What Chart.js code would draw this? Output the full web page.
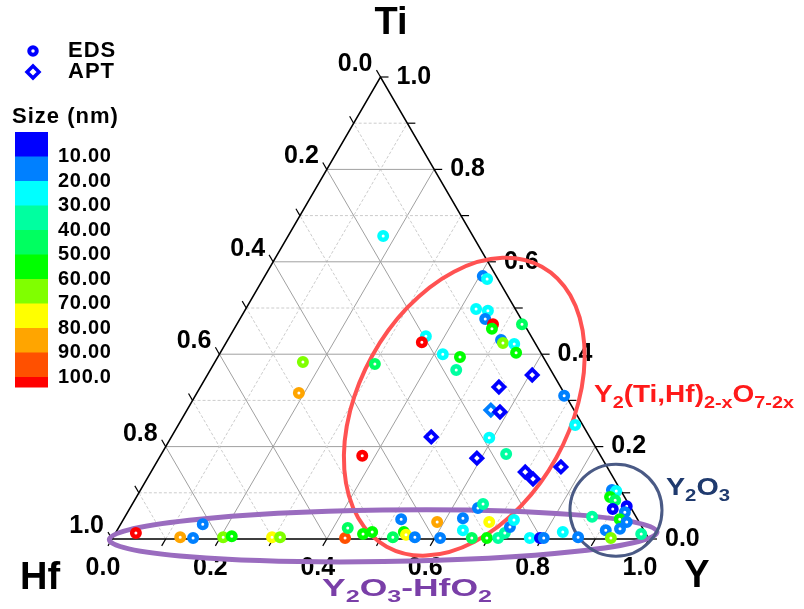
<!DOCTYPE html>
<html>
<head>
<meta charset="utf-8">
<script src="https://cdn.jsdelivr.net/npm/chart.js@4.4.1/dist/chart.umd.min.js"></script>
<style>
    html, body { margin: 0; padding: 0; background: #fff; }
    #wrap { width: 804px; height: 609px; }
</style>
</head>
<body>
<div id="wrap"><canvas id="ternaryChart" width="804" height="609"></canvas></div>
<script>
// EDS particles (circles): Y fraction, Ti fraction, size (nm)
const edsY = [0.177, 0.406, 0.417, 0.429, 0.453, 0.457, 0.477, 0.480, 0.531, 0.365,
              0.364, 0.509, 0.516, 0.538, 0.551, 0.416, 0.451, 0.458, 0.300, 0.687,
              0.739, 0.164, 0.190, 0.376, 0.593, 0.642, 0.153, 0.038, 0.125, 0.150,
              0.205, 0.220, 0.296, 0.311, 0.433, 0.427, 0.462, 0.477, 0.521, 0.536,
              0.543, 0.562, 0.517, 0.587, 0.610, 0.631, 0.644, 0.669, 0.648, 0.653,
              0.697, 0.684, 0.718, 0.725, 0.728, 0.728, 0.777, 0.796, 0.803, 0.832,
              0.866, 0.870, 0.878, 0.887, 0.882, 0.895, 0.900, 0.923, 0.926, 0.924,
              0.940, 0.935, 0.910, 0.928, 0.980];
const edsTi = [0.656, 0.569, 0.563, 0.498, 0.494, 0.476, 0.465, 0.455, 0.465, 0.439,
               0.426, 0.431, 0.424, 0.422, 0.403, 0.400, 0.394, 0.366, 0.379, 0.310,
               0.247, 0.383, 0.316, 0.180, 0.219, 0.184, 0.032, 0.013, 0.004, 0.002,
               0.004, 0.006, 0.004, 0.004, 0.002, 0.024, 0.011, 0.015, 0.004, 0.015,
               0.009, 0.004, 0.043, 0.037, 0.002, 0.045, 0.019, 0.002, 0.067, 0.076,
               0.002, 0.037, 0.002, 0.013, 0.026, 0.041, 0.002, 0.002, 0.002, 0.015,
               0.004, 0.048, 0.106, 0.104, 0.091, 0.084, 0.065, 0.071, 0.058, 0.043,
               0.037, 0.022, 0.019, 0.002, 0.011];
const edsSize = [25, 15, 25, 25, 25, 15, 110, 55, 45, 25,
                 110, 15, 65, 25, 55, 25, 55, 35, 45, 15,
                 25, 65, 85, 110, 25, 35, 15, 110, 85, 15,
                 65, 55, 75, 65, 95, 45, 55, 55, 45, 55,
                 75, 15, 15, 85, 15, 15, 25, 45, 15, 35,
                 55, 75, 35, 35, 15, 25, 25, 5, 15, 25,
                 15, 35, 15, 25, 55, 45, 5, 5, 15, 55,
                 15, 15, 15, 65, 35];

// APT particles (diamonds)
const aptY = [0.605, 0.556, 0.566, 0.585, 0.484, 0.592, 0.697, 0.719, 0.758];
const aptTi = [0.355, 0.329, 0.279, 0.275, 0.221, 0.175, 0.145, 0.130, 0.156];
const aptSize = [5, 5, 15, 5, 5, 5, 5, 5, 5];

// axis ticks and colour scale
const axisTicks = [0, 0.2, 0.4, 0.6, 0.8, 1.0];
const sizeBreaks = [10, 20, 30, 40, 50, 60, 70, 80, 90, 100];
const sizeLabels = ['10.00', '20.00', '30.00', '40.00', '50.00', '60.00', '70.00', '80.00', '90.00', '100.0'];
const sizeColors = ['#0000ff', '#0080ff', '#00ffff', '#00ffa0', '#00ff60', '#00ff00',
                    '#80ff00', '#ffff00', '#ffa500', '#ff5000', '#ff0000'];

const H = Math.sqrt(3) / 2;
const FONT = '"Liberation Sans", Arial, sans-serif';

function sizeColor(s) {
    let i = 0;
    while (i < sizeBreaks.length && s >= sizeBreaks[i]) i++;
    return sizeColors[i];
}

// ternary (Y, Ti) -> cartesian
function toXY(y, ti) {
    return { x: y + ti / 2, y: ti * H };
}

function buildPoints(ys, tis) {
    return ys.map((y, i) => toXY(y, tis[i]));
}

// 삼각형, 격자, 눈금, 라벨
const ternaryPlugin = {
    id: 'ternary',
    beforeDatasetsDraw(chart) {
        const ctx = chart.ctx;
        const xs = chart.scales.x, ys = chart.scales.y;
        const P = (y, ti) => {
            const c = toXY(y, ti);
            return [xs.getPixelForValue(c.x), ys.getPixelForValue(c.y)];
        };
        const line = (a, b) => {
            ctx.beginPath();
            ctx.moveTo(a[0], a[1]);
            ctx.lineTo(b[0], b[1]);
            ctx.stroke();
        };
        ctx.save();

        // grid
        for (let k = 1; k < 10; k++) {
            const v = k / 10;
            if (k % 2 === 0) {
                ctx.strokeStyle = '#a0a0a0';
                ctx.setLineDash([]);
            } else {
                ctx.strokeStyle = '#cccccc';
                ctx.setLineDash([3, 2]);
            }
            ctx.lineWidth = 1;
            line(P(0, v), P(1 - v, v));
            line(P(v, 0), P(v, 1 - v));
            line(P(1 - v, 0), P(0, 1 - v));
        }
        ctx.setLineDash([]);

        // triangle
        const hf = P(0, 0), yv = P(1, 0), ti = P(0, 1);
        ctx.strokeStyle = '#000';
        ctx.lineWidth = 1.5;
        ctx.beginPath();
        ctx.moveTo(hf[0], hf[1]);
        ctx.lineTo(yv[0], yv[1]);
        ctx.lineTo(ti[0], ti[1]);
        ctx.closePath();
        ctx.stroke();

        // tick directions
        const norm = (dx, dy) => { const l = Math.hypot(dx, dy); return [dx / l, dy / l]; };
        const dBottom = norm(hf[0] - ti[0], hf[1] - ti[1]);
        const dLeft = norm(ti[0] - yv[0], ti[1] - yv[1]);
        const dRight = [1, 0];
        const TL = 8;

        ctx.lineWidth = 1.2;
        for (let k = 0; k <= 10; k++) {
            const v = k / 10;
            let p = P(v, 0);
            line(p, [p[0] + dBottom[0] * TL, p[1] + dBottom[1] * TL]);
            p = P(1 - v, v);
            line(p, [p[0] + dRight[0] * TL, p[1] + dRight[1] * TL]);
            p = P(0, 1 - v);
            line(p, [p[0] + dLeft[0] * TL, p[1] + dLeft[1] * TL]);
        }

        // tick labels
        ctx.fillStyle = '#000';
        ctx.font = 'bold 25px ' + FONT;
        axisTicks.forEach(v => {
            const txt = v.toFixed(1);
            // bottom (Y)
            let p = P(v, 0);
            ctx.textAlign = 'center';
            ctx.textBaseline = 'middle';
            ctx.fillText(txt, p[0] + dBottom[0] * TL - 5, p[1] + dBottom[1] * TL + 22);
            // right (Ti)
            p = P(1 - v, v);
            ctx.textAlign = 'left';
            ctx.fillText(txt, p[0] + TL + 8, p[1]);
            // left (Hf)
            p = P(0, 1 - v);
            ctx.textAlign = 'right';
            ctx.fillText(txt, p[0] + dLeft[0] * TL - 4, p[1] + dLeft[1] * TL - 6);
        });

        // region ellipses
        const sx = xs.getPixelForValue(1) - xs.getPixelForValue(0);
        const ellipse = (cx, cy, a, b, deg, color, w) => {
            ctx.beginPath();
            ctx.ellipse(xs.getPixelForValue(cx), ys.getPixelForValue(cy), a * sx, b * sx,
                        -deg * Math.PI / 180, 0, Math.PI * 2);
            ctx.strokeStyle = color;
            ctx.lineWidth = w;
            ctx.stroke();
        };
        ellipse(0.656, 0.248, 0.298, 0.196, 61, '#ff5252', 4);
        ellipse(0.505, 0.006, 0.510, 0.048, 0.8, '#9a6cbf', 5);
        ellipse(0.9385, 0.054, 0.0857, 0.0857, 0, '#4a5a85', 3);

        ctx.restore();
    },

    afterDraw(chart) {
        const ctx = chart.ctx;
        ctx.save();

        // corner titles
        ctx.fillStyle = '#000';
        ctx.font = 'bold 38px ' + FONT;
        ctx.textAlign = 'center';
        ctx.textBaseline = 'middle';
        ctx.fillText('Ti', 391, 24);
        ctx.fillText('Hf', 40, 579);
        ctx.fillText('Y', 697, 577);

        // formula labels with subscripts
        const formula = (parts, x, base, size, color, width) => {
            const subFont = 'bold ' + Math.round(size * 0.72) + 'px ' + FONT;
            const mainFont = 'bold ' + size + 'px ' + FONT;
            let natural = 0;
            parts.forEach(([t, sub]) => {
                ctx.font = sub ? subFont : mainFont;
                natural += ctx.measureText(t).width;
            });
            ctx.save();
            ctx.translate(x, base);
            ctx.scale(width / natural, 1);
            ctx.fillStyle = color;
            ctx.textAlign = 'left';
            ctx.textBaseline = 'alphabetic';
            let cx = 0;
            parts.forEach(([t, sub]) => {
                ctx.font = sub ? subFont : mainFont;
                ctx.fillText(t, cx, sub ? size * 0.25 : 0);
                cx += ctx.measureText(t).width;
            });
            ctx.restore();
        };
        formula([['Y', 0], ['2', 1], ['(Ti,Hf)', 0], ['2-x', 1], ['O', 0], ['7-2x', 1]],
                594, 402, 24, '#ff1a1a', 200);
        formula([['Y', 0], ['2', 1], ['O', 0], ['3', 1]], 666, 495, 24, '#1f3a6e', 64);
        formula([['Y', 0], ['2', 1], ['O', 0], ['3', 1], ['-HfO', 0], ['2', 1]],
                322, 596, 24, '#7a3fa8', 170);

        // legend: EDS / APT
        ctx.strokeStyle = '#0000ff';
        ctx.fillStyle = '#fff';
        ctx.lineWidth = 4;
        ctx.beginPath();
        ctx.arc(33, 51, 3.75, 0, Math.PI * 2);
        ctx.fill();
        ctx.stroke();
        ctx.lineWidth = 3.5;
        ctx.beginPath();
        ctx.moveTo(27, 72);
        ctx.lineTo(33, 66);
        ctx.lineTo(39, 72);
        ctx.lineTo(33, 78);
        ctx.closePath();
        ctx.fill();
        ctx.stroke();

        ctx.fillStyle = '#000';
        ctx.font = 'bold 22px ' + FONT;
        ctx.textAlign = 'left';
        ctx.textBaseline = 'middle';
        ctx.letterSpacing = '1px';
        ctx.fillText('EDS', 68, 51);
        ctx.fillText('APT', 68, 72);
        ctx.fillText('Size (nm)', 12, 117);

        // colour bar
        const barX = 15, barW = 33, barTop = 132, band = 24.5;
        sizeColors.forEach((c, i) => {
            ctx.fillStyle = c;
            const h = i === sizeColors.length - 1 ? 10 : band;
            ctx.fillRect(barX, barTop + i * band, barW, h + 0.5);
        });
        ctx.fillStyle = '#000';
        ctx.font = 'bold 20px ' + FONT;
        ctx.letterSpacing = '0.7px';
        sizeLabels.forEach((t, i) => {
            ctx.fillText(t, 58, barTop + (i + 1) * band);
        });
        ctx.restore();
    }
};

const ctx = document.getElementById('ternaryChart');

const chart = new Chart(ctx.getContext('2d'), {
    type: 'scatter',
    data: {
        datasets: [
            {
                label: 'EDS',
                data: buildPoints(edsY, edsTi),
                pointStyle: 'circle',
                pointRadius: 3.75,
                pointBorderWidth: 4.5,
                pointBackgroundColor: '#fff',
                pointBorderColor: edsSize.map(sizeColor),
                clip: false
            },
            {
                label: 'APT',
                data: buildPoints(aptY, aptTi),
                pointStyle: 'rectRot',
                pointRadius: 5.5,
                pointBorderWidth: 3.8,
                pointBackgroundColor: '#fff',
                pointBorderColor: aptSize.map(sizeColor),
                clip: false
            }
        ]
    },
    options: {
        responsive: false,
        devicePixelRatio: 1,
        animation: false,
        layout: { padding: { left: 112, right: 155, top: 77, bottom: 70 } },
        scales: {
            x: { type: 'linear', min: 0, max: 1, display: false },
            y: { type: 'linear', min: 0, max: H, display: false }
        },
        plugins: {
            legend: { display: false },
            tooltip: { enabled: false }
        }
    },
    plugins: [ternaryPlugin]
});
</script>
</body>
</html>
